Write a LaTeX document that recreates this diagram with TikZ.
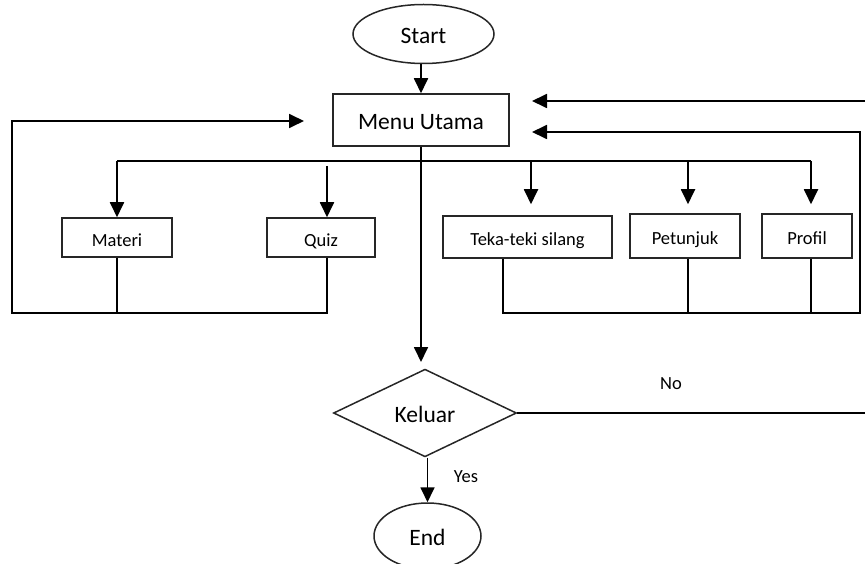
\documentclass[tikz,border=0pt]{standalone}
\usepackage{fontspec}
\setmainfont{Carlito}
\usetikzlibrary{shapes.geometric,arrows.meta,calc}
\tikzset{
  big/.style={font=\fontsize{23.5}{28}\selectfont,text height=23pt,text depth=4pt},
  small/.style={font=\fontsize{18.5}{22}\selectfont,text height=22pt,text depth=4pt},
  procbox/.style={draw=black!85,line width=1.5pt,rectangle,inner sep=0pt,small},
  termnode/.style={draw=black!85,line width=1.5pt,ellipse,inner sep=0pt,big},
  decnode/.style={draw=black!85,line width=1.5pt,diamond,inner sep=0pt,big},
  conn/.style={line width=1.8pt,black},
  arr/.style={conn,-{Triangle[length=15pt,width=14pt]}},
  lbl/.style={font=\fontsize{18.5}{22}\selectfont,inner sep=0pt}
}
\begin{document}
\begin{tikzpicture}[x=1pt,y=-1pt]
\useasboundingbox (0,0) rectangle (865,564);
% nodes
\node[termnode,minimum width=141pt,minimum height=59pt] (start) at (423.5,34) {Start};
\node[procbox,big,minimum width=176pt,minimum height=52pt] (menu) at (421,120) {Menu Utama};
\node[procbox,minimum width=110pt,minimum height=39pt] (materi) at (117,237.5) {Materi};
\node[procbox,minimum width=108pt,minimum height=39pt] (quiz) at (321,237.5) {Quiz};
\node[procbox,minimum width=169pt,minimum height=42pt] (teka) at (527.5,237) {Teka-teki silang};
\node[procbox,minimum width=110pt,minimum height=44pt] (petunjuk) at (685,236) {Petunjuk};
\node[procbox,minimum width=90pt,minimum height=44pt] (profil) at (807,236) {Profil};
\node[decnode,minimum width=183pt,minimum height=87pt] (keluar) at (425,413) {Keluar};
\node[termnode,minimum width=107pt,minimum height=66pt] (end) at (427.5,536) {End};
\node[lbl] (no) at (671,384) {No};
\node[lbl] (yes) at (466,477) {Yes};
% coordinates
\coordinate (busL) at (117,161);
\coordinate (busR) at (811,161);
\coordinate (qx) at (327,0);
\coordinate (qtop) at (327,166);
\coordinate (tx) at (531,0);
\coordinate (tbx) at (503,0);
\coordinate (px) at (688,0);
\coordinate (fx) at (811,0);
\coordinate (kin) at (421,362);
\coordinate (lb) at (12,313);
\coordinate (lt) at (12,121);
\coordinate (ltip) at (304,121);
\coordinate (rb) at (860,313);
\coordinate (rt) at (860,132);
\coordinate (rtip) at (532,132);
\coordinate (tr) at (865,101);
\coordinate (ttip) at (532,101);
\coordinate (nr) at (865,413);
% connectors
\draw[arr] (start.south -| menu.north) -- (menu.north);
\draw[arr] (menu.south) -- (kin);
\draw[conn] (busL) -- (busR);
\draw[arr] (busL) -- (materi.north);
\draw[arr] (qtop) -- (quiz.north -| qx);
\draw[arr] (busL -| tx) -- ($(teka.north -| tx)+(0,-11)$);
\draw[arr] (busL -| px) -- ($(petunjuk.north -| px)+(0,-9)$);
\draw[arr] (busR) -- ($(profil.north -| fx)+(0,-9)$);
% left feedback
\draw[conn] (materi.south) -- (materi.south |- lb);
\draw[arr] (quiz.south -| qx) |- (lb) -- (lt) -- (ltip);
% right feedback
\draw[conn] (teka.south -| tbx) |- (rb);
\draw[conn] (petunjuk.south -| px) -- (px |- rb);
\draw[arr] (profil.south -| fx) |- (rb) -- (rt) -- (rtip);
\draw[arr] (tr) -- (ttip);
% decision
\draw[conn] (keluar.east) -- (nr);
\draw[arr] (keluar.south -| end.north) -- (end.north);
\end{tikzpicture}
\end{document}
